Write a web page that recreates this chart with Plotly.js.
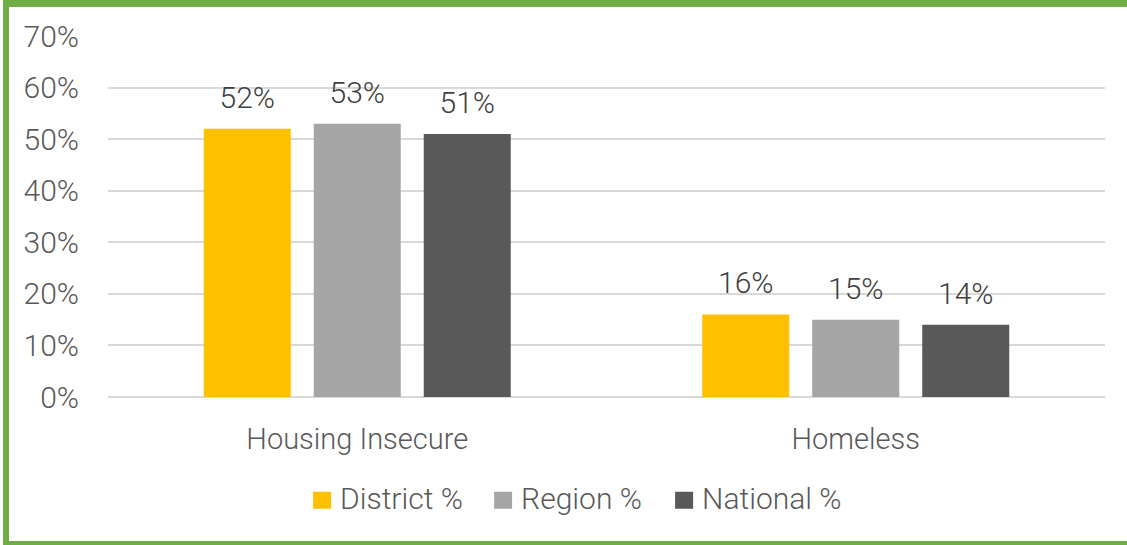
<!DOCTYPE html>
<html>
<head>
<meta charset="utf-8">
<script src="https://cdn.plot.ly/plotly-3.0.1.min.js"></script>
<style>
  html, body { margin: 0; padding: 0; background: #fff; }
  #wrap { position: relative; width: 1127px; height: 545px; overflow: hidden; }
  #chart { position: absolute; left: 0; top: 0; width: 1127px; height: 545px; }
  #frame { position: absolute; left: 3px; top: 0; width: 1140px; height: 545px;
           box-sizing: border-box; border-left: 6px solid #70AD47; border-top: 7px solid #70AD47;
           border-bottom: 4px solid #70AD47; pointer-events: none; }
</style>
</head>
<body>
<div id="wrap">
  <div id="chart"></div>
  <div id="frame"></div>
</div>
<script>
const categories = ["Housing Insecure", "Homeless"];
const seriesNames = ["District %", "Region %", "National %"];
const districtValues = [0.52, 0.16];
const regionValues = [0.53, 0.15];
const nationalValues = [0.51, 0.14];
const seriesColors = ["#FFC000", "#A5A5A5", "#595959"];
const tickValues = [0, 0.1, 0.2, 0.3, 0.4, 0.5, 0.6, 0.7];

const FONT = "Roboto, 'Liberation Sans', sans-serif";
const TXT = "#595959";
const allValues = [districtValues, regionValues, nationalValues];

const barTraces = allValues.map((vals, i) => ({
  type: "bar",
  name: seriesNames[i],
  x: categories,
  y: vals,
  marker: { color: seriesColors[i] },
  hoverinfo: "skip"
}));

const labelTraces = allValues.map((vals, i) => ({
  type: "scatter",
  mode: "markers+text",
  name: seriesNames[i] + " label",
  showlegend: false,
  x: categories,
  y: vals,
  marker: { size: 20, opacity: 0 },
  text: vals.map(v => Math.round(v * 100) + "%"),
  textposition: "top center",
  textfont: { family: FONT, size: 30, color: "#404040", weight: 300 },
  cliponaxis: false,
  hoverinfo: "skip"
}));

const layout = {
  width: 1127,
  height: 545,
  margin: { l: 108, r: 22, t: 36, b: 148 },
  paper_bgcolor: "#ffffff",
  plot_bgcolor: "#ffffff",
  barmode: "group",
  bargap: 0.338,
  bargroupgap: 0.209,
  scattermode: "group",
  scattergap: 0.338,
  font: { family: FONT, color: TXT, size: 28, weight: 300 },
  showlegend: true,
  legend: {
    orientation: "h",
    x: 0.465, xanchor: "center",
    y: -0.207, yanchor: "top",
    font: { family: FONT, size: 30, color: TXT, weight: 300 },
    entrywidth: 136,
    entrywidthmode: "pixels",
    traceorder: "normal"
  },
  xaxis: {
    type: "category",
    showline: false,
    showgrid: false,
    ticks: "",
    ticklabelstandoff: 22,
    tickfont: { family: FONT, size: 29, color: TXT, weight: 300 }
  },
  yaxis: {
    range: [0, 0.7],
    tickvals: tickValues,
    tickformat: ".0%",
    showgrid: true,
    gridcolor: "#D9D9D9",
    gridwidth: 2,
    zeroline: true,
    zerolinecolor: "#D9D9D9",
    zerolinewidth: 2,
    showline: false,
    ticks: "",
    ticklabelstandoff: 28,
    tickfont: { family: FONT, size: 30, color: TXT, weight: 300 }
  }
};

const gd = document.getElementById("chart");
Plotly.newPlot(gd, barTraces.concat(labelTraces), layout, { staticPlot: true, displayModeBar: false }).then(() => {
  gd.querySelectorAll(".legend .legendpoints path").forEach(p => {
    p.setAttribute("d", "M11,11H-7V-6H11Z");
  });
});
</script>
</body>
</html>
